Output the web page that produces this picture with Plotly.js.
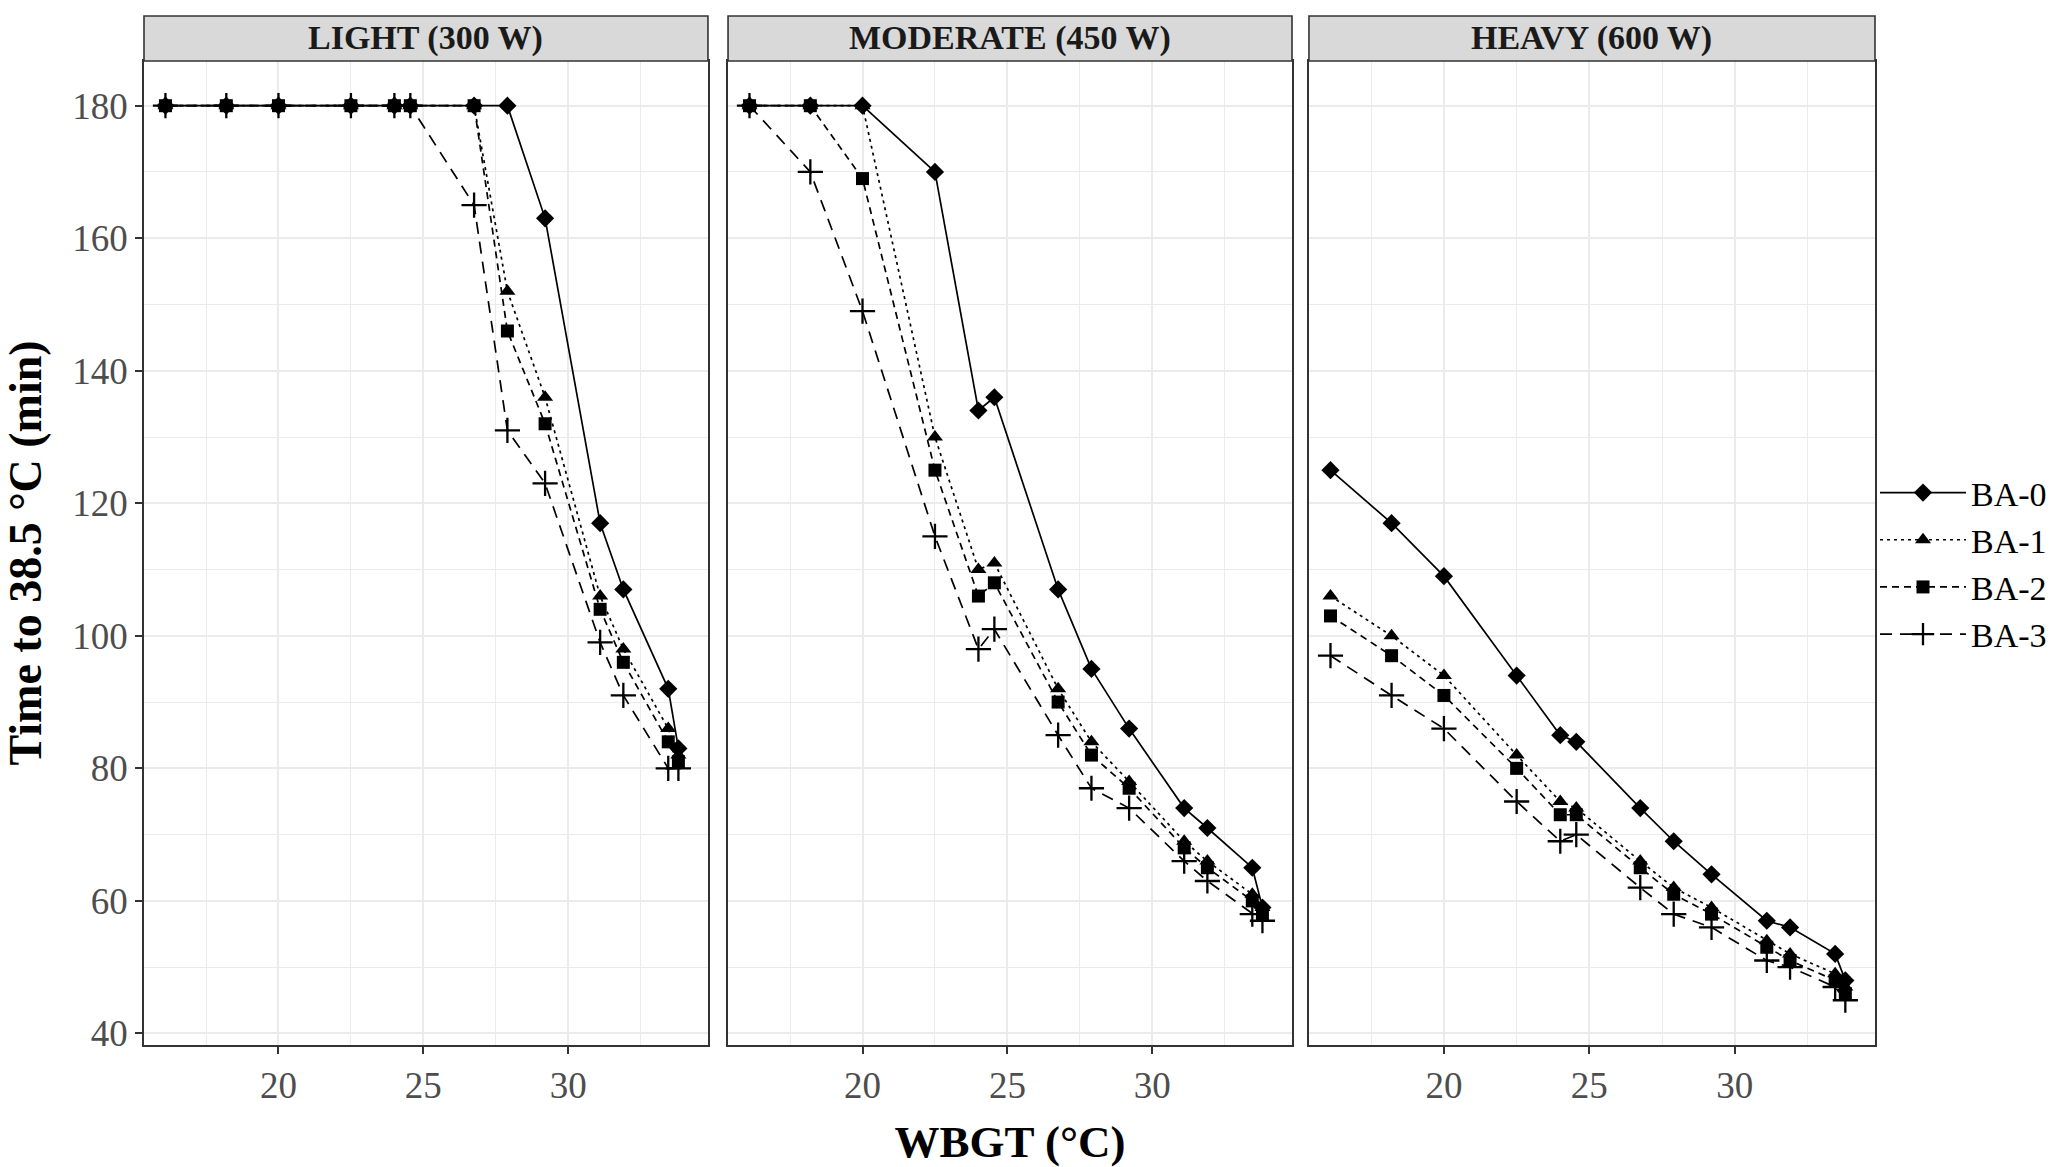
<!DOCTYPE html>
<html>
<head>
<meta charset="utf-8">
<script src="https://cdn.plot.ly/plotly-3.0.1.min.js"></script>
<style>
  body { margin: 0; background: #fff; }
  #chart { width: 2067px; height: 1167px; }
</style>
</head>
<body>
<div id="chart"></div>
<script>
// WBGT (°C) levels, shared by the three panels
const wbgt = [16.1, 18.2, 20.0, 22.5, 24.0, 24.55, 26.75, 27.9, 29.2, 31.1, 31.9, 33.45, 33.8]

const panels = ['LIGHT (300 W)', 'MODERATE (450 W)', 'HEAVY (600 W)']
const seriesNames = ['BA-0', 'BA-1', 'BA-2', 'BA-3']

// time to 38.5 °C (min), one array per series, per panel
const light0 = [180, 180, 180, 180, 180, 180, 180, 180, 163, 117, 107, 92, 83]
const light1 = [180, 180, 180, 180, 180, 180, 180, 152, 136, 106, 98, 86, 82]
const light2 = [180, 180, 180, 180, 180, 180, 180, 146, 132, 104, 96, 84, 81]
const light3 = [180, 180, 180, 180, 180, 180, 165, 131, 123, 99, 91, 80, 80]

const moderate0 = [180, 180, 180, 170, 134, 136, 107, 95, 86, 74, 71, 65, 59]
const moderate1 = [180, 180, 180, 130, 110, 111, 92, 84, 78, 69, 66, 61, 59]
const moderate2 = [180, 180, 169, 125, 106, 108, 90, 82, 77, 68, 65, 60, 58]
const moderate3 = [180, 170, 149, 115, 98, 101, 85, 77, 74, 66, 63, 58, 57]

const heavy0 = [125, 117, 109, 94, 85, 84, 74, 69, 64, 57, 56, 52, 48]
const heavy1 = [106, 100, 94, 82, 75, 74, 66, 62, 59, 54, 52, 49, 47]
const heavy2 = [103, 97, 91, 80, 73, 73, 65, 61, 58, 53, 51, 48, 46]
const heavy3 = [97, 91, 86, 75, 69, 70, 62, 58, 56, 51, 50, 47, 45]

const panelData = [
  [light0, light1, light2, light3],
  [moderate0, moderate1, moderate2, moderate3],
  [heavy0, heavy1, heavy2, heavy3],
]

//styles
const font = "'Liberation Serif', 'Times New Roman', serif"
const ink = '#000000'
const gridColor = '#EBEBEB'
const borderColor = '#333333'
const dashes = ['solid', '3px,4px', '7px,5px', '12px,8px']
const symbols = ['diamond', 'triangle-up', 'square', 'cross-thin-open']
const sizes = [14, 14, 13, 18]

const domainsX = [[0, 0.3258], [0.3374, 0.6632], [0.673, 1]]
const plotTop = 0.9563

let traces = []
panelData.forEach((series, p) => {
  const axisId = p === 0 ? '' : String(p + 1)
  series.forEach((values, s) => {
    traces.push({
      x: wbgt,
      y: values,
      xaxis: 'x' + axisId,
      yaxis: 'y' + axisId,
      name: seriesNames[s],
      legendgroup: seriesNames[s],
      showlegend: p === 0,
      type: 'scatter',
      mode: 'lines+markers',
      line: { color: ink, width: 1.7, dash: dashes[s] },
      marker: {
        symbol: symbols[s],
        size: sizes[s],
        color: ink,
        line: { color: ink, width: s === 3 ? 2.3 : 0 },
      },
    })
  })
})

const xBase = {
  range: [15.36, 34.82],
  tickvals: [20, 25, 30],
  showgrid: true,
  gridcolor: gridColor,
  gridwidth: 2,
  minor: { dtick: 2.5, tick0: 0, showgrid: true, gridcolor: gridColor, gridwidth: 1.2 },
  zeroline: false,
  showline: true,
  linecolor: borderColor,
  linewidth: 1.6,
  mirror: true,
  ticks: 'outside',
  ticklen: 7,
  tickwidth: 1.6,
  tickcolor: borderColor,
  tickfont: { family: font, size: 37, color: '#4D4D4D' },
}

const yBase = {
  range: [38.25, 186.75],
  tick0: 40,
  dtick: 20,
  domain: [0, plotTop],
  showgrid: true,
  gridcolor: gridColor,
  gridwidth: 2,
  minor: { dtick: 10, tick0: 0, showgrid: true, gridcolor: gridColor, gridwidth: 1.2 },
  zeroline: false,
  showline: true,
  linecolor: borderColor,
  linewidth: 1.6,
  mirror: true,
  ticks: 'outside',
  ticklen: 7,
  tickwidth: 1.6,
  tickcolor: borderColor,
  tickfont: { family: font, size: 37, color: '#4D4D4D' },
}

let layout = {
  width: 2067,
  height: 1167,
  paper_bgcolor: '#ffffff',
  plot_bgcolor: '#ffffff',
  margin: { l: 144, r: 192, t: 16, b: 122 },
  font: { family: font, size: 36, color: ink },
  showlegend: true,
  legend: {
    x: 1.0,
    xanchor: 'left',
    y: 0.468,
    yanchor: 'middle',
    itemwidth: 86,
    font: { family: font, size: 34, color: ink },
    bgcolor: 'rgba(0,0,0,0)',
    tracegroupgap: 0,
  },
  shapes: [],
  annotations: [],
}

domainsX.forEach((dom, p) => {
  const axisId = p === 0 ? '' : String(p + 1)
  layout['xaxis' + axisId] = { ...xBase, domain: dom, anchor: 'y' + axisId }
  layout['yaxis' + axisId] = { ...yBase, anchor: 'x' + axisId }
  if (p > 0) {
    layout['yaxis' + axisId].showticklabels = false
    layout['yaxis' + axisId].ticks = ''
  }
  //grey strip with the panel name
  layout.shapes.push({
    type: 'rect',
    xref: 'x' + axisId + ' domain',
    yref: 'paper',
    x0: 0,
    x1: 1,
    y0: plotTop,
    y1: 1,
    fillcolor: '#D9D9D9',
    line: { color: borderColor, width: 1.6 },
  })
  layout.annotations.push({
    xref: 'x' + axisId + ' domain',
    yref: 'paper',
    x: 0.5,
    y: (plotTop + 1) / 2,
    xanchor: 'center',
    yanchor: 'middle',
    showarrow: false,
    text: panels[p],
    font: { family: font, size: 34, color: '#1A1A1A', weight: 'bold' },
  })
})

layout.yaxis.title = {
  text: 'Time to 38.5 °C (min)',
  standoff: 32,
  font: { family: font, size: 46, color: ink, weight: 'bold' },
}
layout.xaxis2.title = {
  text: 'WBGT (°C)',
  standoff: 26,
  font: { family: font, size: 45, color: ink, weight: 'bold' },
}

Plotly.newPlot('chart', traces, layout, { displayModeBar: false, responsive: false })
</script>
</body>
</html>
